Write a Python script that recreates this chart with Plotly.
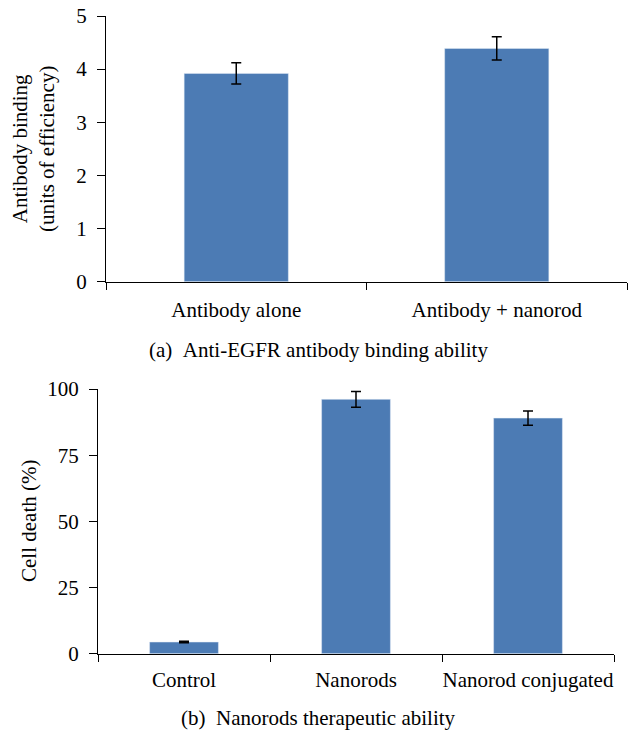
import plotly.graph_objects as go

# Panel (a)
cat_a = ["Antibody alone", "Antibody + nanorod"]
val_a = [3.92, 4.39]
err_a = [0.2, 0.22]
yticks_a = [0, 1, 2, 3, 4, 5]

# Panel (b)
cat_b = ["Control", "Nanorods", "Nanorod conjugated"]
val_b = [4.4, 96.1, 89.0]
err_b = [0.3, 3.0, 2.7]
yticks_b = [0, 25, 50, 75, 100]

BAR = "#4c7bb4"
FONT = "Liberation Serif"
FS = 21
W, H = 628, 731

fig = go.Figure()
fig.add_trace(go.Bar(x=cat_a, y=val_a, marker_color=BAR, width=0.4,
                     error_y=dict(type="data", array=err_a, color="black", thickness=1.5, width=5),
                     xaxis="x", yaxis="y", showlegend=False))
fig.add_trace(go.Bar(x=cat_b, y=val_b, marker_color=BAR, width=0.4,
                     error_y=dict(type="data", array=err_b, color="black", thickness=1.5, width=5),
                     xaxis="x2", yaxis="y2", showlegend=False))

axcommon = dict(showline=True, linecolor="black", linewidth=1, ticks="outside",
                tickcolor="black", showgrid=False, zeroline=False, automargin=False,
                tickfont=dict(family=FONT, size=FS, color="black"))

ann = dict(xref="paper", yref="paper", showarrow=False, xanchor="center", yanchor="middle",
           font=dict(family=FONT, size=FS, color="black"))

fig.update_layout(
    width=W, height=H, margin=dict(l=0, r=0, t=0, b=0),
    plot_bgcolor="white", paper_bgcolor="white",
    font=dict(family=FONT, color="black", size=FS),
    xaxis=dict(domain=[106/W, 627/W], anchor="y", tickson="boundaries", ticklen=7,
               tickangle=0, ticklabelstandoff=9, **axcommon),
    yaxis=dict(domain=[1-281.7/H, 1-16/H], anchor="x", range=[0, 5], tickvals=yticks_a,
               ticklen=8, ticklabelstandoff=6, **axcommon),
    xaxis2=dict(domain=[98/W, 614/W], anchor="y2", tickson="boundaries", ticklen=7,
                tickangle=0, ticklabelstandoff=7, **axcommon),
    yaxis2=dict(domain=[1-653.7/H, 1-389/H], anchor="x2", range=[0, 100], tickvals=yticks_b,
                ticklen=8, ticklabelstandoff=6, **axcommon),
    annotations=[
        dict(text="Antibody binding<br>(units of efficiency)", textangle=-90, x=33/W, y=1-149/H, **ann),
        dict(text="Cell death (%)", textangle=-90, x=29/W, y=1-521/H, **ann),
        dict(text="(a)\u00a0\u00a0Anti-EGFR antibody binding ability", x=318/W, y=1-350/H, **ann),
        dict(text="(b)\u00a0\u00a0Nanorods therapeutic ability", x=318/W, y=1-718/H, **ann),
    ],
)

fig.write_html("out.html", config={"displayModeBar": False},
               post_script="document.body.style.margin='0';")
